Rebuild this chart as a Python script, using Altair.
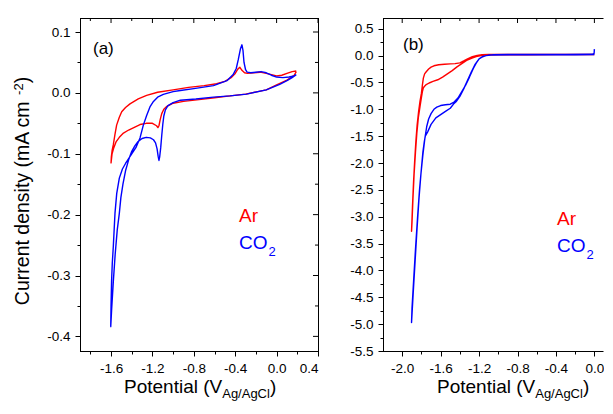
import altair as alt
import pandas as pd

FONT = "Liberation Sans"

# ---------------- panel (a) data ----------------
a_ar_v = [0.19, 0.17, 0.10, 0.0, -0.10, -0.30, -0.45, -0.60, -0.75, -0.90, -1.0, -1.06, -1.09, -1.11,
          -1.125, -1.137, -1.147, -1.16, -1.20, -1.26, -1.32, -1.38, -1.43, -1.48, -1.52, -1.55, -1.575,
          -1.59, -1.6,
          -1.597, -1.59, -1.578, -1.562, -1.546, -1.52, -1.497, -1.46, -1.417, -1.337, -1.256, -1.15,
          -1.0, -0.85, -0.70, -0.58, -0.50, -0.44, -0.40, -0.375, -0.355, -0.335, -0.31, -0.28, -0.22,
          -0.16, -0.10, -0.05, 0.0, 0.05, 0.10, 0.15, 0.19]
a_ar_j = [0.035, 0.029, 0.021, 0.013, 0.005, -0.002, -0.005, -0.008, -0.011, -0.014, -0.017, -0.022,
          -0.027, -0.034, -0.044, -0.054, -0.057, -0.054, -0.050, -0.050, -0.052, -0.057, -0.061, -0.066,
          -0.073, -0.080, -0.091, -0.100, -0.115,
          -0.105, -0.095, -0.085, -0.068, -0.053, -0.040, -0.031, -0.024, -0.018, -0.010, -0.004, 0.001,
          0.005, 0.009, 0.012, 0.015, 0.019, 0.025, 0.032, 0.039, 0.042, 0.037, 0.033, 0.032, 0.033,
          0.034, 0.032, 0.030, 0.028, 0.029, 0.032, 0.035, 0.036]
a_co2_v = [0.19, 0.15, 0.10, 0.03, -0.10, -0.29, -0.45, -0.61, -0.78, -0.93, -1.00, -1.05, -1.075, -1.09,
           -1.10, -1.11, -1.12, -1.13, -1.137, -1.145, -1.155, -1.17, -1.19, -1.22, -1.26, -1.30, -1.34,
           -1.37, -1.40, -1.43, -1.46, -1.485, -1.505, -1.52, -1.54, -1.56, -1.578, -1.594, -1.603,
           -1.60, -1.595, -1.588, -1.578, -1.562, -1.545, -1.52, -1.49, -1.46, -1.43, -1.40, -1.36, -1.32,
           -1.288, -1.256, -1.224, -1.19, -1.15, -1.095, -1.0, -0.93, -0.8, -0.61, -0.48, -0.42, -0.39,
           -0.37, -0.35, -0.335, -0.325, -0.315, -0.30, -0.285, -0.25, -0.20, -0.15, -0.10, -0.05, 0.0,
           0.06, 0.12, 0.17, 0.19]
a_co2_j = [0.030, 0.025, 0.020, 0.014, 0.005, -0.002, -0.005, -0.007, -0.010, -0.012, -0.016, -0.021,
           -0.028, -0.038, -0.052, -0.070, -0.090, -0.105, -0.111, -0.104, -0.092, -0.082, -0.077, -0.074,
           -0.073, -0.075, -0.080, -0.087, -0.096, -0.110, -0.128, -0.150, -0.172, -0.198, -0.225, -0.265,
           -0.310, -0.355, -0.384,
           -0.35, -0.31, -0.28, -0.252, -0.198, -0.165, -0.140, -0.125, -0.116, -0.108, -0.100, -0.090,
           -0.074, -0.053, -0.037, -0.023, -0.014, -0.007, -0.0025, 0.002, 0.004, 0.007, 0.012, 0.020,
           0.030, 0.040, 0.055, 0.072, 0.079, 0.070, 0.050, 0.038, 0.034, 0.033, 0.034, 0.035, 0.033,
           0.029, 0.026, 0.025, 0.026, 0.028, 0.030]

# ---------------- panel (b) data ----------------
b_ar_v = [0.0, -0.3, -0.6, -0.9, -1.1, -1.17, -1.22, -1.27, -1.32, -1.36, -1.40, -1.45, -1.50, -1.56,
          -1.62, -1.67, -1.70, -1.725, -1.75, -1.767, -1.78, -1.79, -1.80, -1.815, -1.83, -1.845, -1.858,
          -1.87, -1.882, -1.893, -1.903,
          -1.898, -1.888, -1.876, -1.862, -1.848, -1.832, -1.815, -1.80, -1.79, -1.78, -1.77, -1.75,
          -1.72, -1.68, -1.63, -1.58, -1.53, -1.48, -1.43, -1.38, -1.33, -1.28, -1.23, -1.18, -1.13,
          -1.0, -0.7, -0.4, -0.1, 0.0]
b_ar_j = [0.02, 0.02, 0.02, 0.02, 0.02, 0.015, 0.005, -0.02, -0.06, -0.10, -0.135, -0.15, -0.155, -0.16,
          -0.17, -0.19, -0.215, -0.25, -0.30, -0.34, -0.42, -0.55, -0.70, -0.85, -1.05, -1.30, -1.60,
          -1.95, -2.35, -2.80, -3.27,
          -3.10, -2.65, -2.20, -1.80, -1.45, -1.15, -0.95, -0.78, -0.67, -0.60, -0.575, -0.54,
          -0.51, -0.48, -0.45, -0.40, -0.34, -0.28, -0.21, -0.15, -0.09, -0.05, -0.02, 0.0, 0.01,
          0.015, 0.015, 0.02, 0.02, 0.02]
b_co2_v = [0.0, -0.003, -0.02, -0.3, -0.6, -0.9, -1.05, -1.13, -1.17, -1.20, -1.23, -1.26, -1.30, -1.34,
           -1.38, -1.42, -1.46, -1.50, -1.55, -1.60, -1.64, -1.67, -1.70, -1.725, -1.745, -1.765, -1.785,
           -1.805, -1.825, -1.845, -1.865, -1.885, -1.903,
           -1.898, -1.88, -1.86, -1.84, -1.82, -1.80, -1.785, -1.77, -1.76, -1.735, -1.70, -1.65, -1.60,
           -1.55, -1.50, -1.46, -1.44, -1.40, -1.36, -1.32, -1.28, -1.24, -1.20, -1.16, -1.10, -0.8,
           -0.5, -0.2, 0.0]
b_co2_j = [0.12, 0.04, 0.025, 0.02, 0.02, 0.02, 0.015, 0.0, -0.03, -0.06, -0.14, -0.24, -0.40, -0.55,
           -0.67, -0.79, -0.865, -0.905, -0.915, -0.93, -0.96, -1.0, -1.08, -1.18, -1.32, -1.55, -1.85,
           -2.2, -2.65, -3.2, -3.8, -4.4, -4.97,
           -4.7, -4.15, -3.55, -3.0, -2.5, -2.1, -1.8, -1.6, -1.50, -1.42, -1.28, -1.16, -1.10,
           -1.04, -0.98, -0.89, -0.86, -0.76, -0.62, -0.46, -0.30, -0.16, -0.06, -0.015, 0.01, 0.015,
           0.015, 0.015, 0.02]

# ---------------- axes ----------------
a_x_dom = [-1.9, 0.4]
a_y_dom = [-0.424, 0.123]
a_x_major = [-1.6, -1.2, -0.8, -0.4, 0.0, 0.4]
a_x_minor = [-1.8, -1.4, -1.0, -0.6, -0.2, 0.2]
a_y_major = [0.1, 0.0, -0.1, -0.2, -0.3, -0.4]
a_y_minor = [0.05, -0.05, -0.15, -0.25, -0.35]

b_x_dom = [-2.2, 0.1]
b_y_dom = [-5.5, 0.7]
b_x_major = [-2.0, -1.6, -1.2, -0.8, -0.4, 0.0]
b_x_minor = [-1.8, -1.4, -1.0, -0.6, -0.2]
b_y_major = [0.5, 0.0, -0.5, -1.0, -1.5, -2.0, -2.5, -3.0, -3.5, -4.0, -4.5, -5.0, -5.5]
b_y_minor = [0.25, -0.25, -0.75, -1.25, -1.75, -2.25, -2.75, -3.25, -3.75, -4.25, -4.75, -5.25]

series = ["Ar", "CO2"]
colors = ["#ff0000", "#0000ff"]

y_title_main = "Current density  (mA cm"
y_title_sup = "-2"
x_title_main = "Potential (V"
x_title_sub = "Ag/AgCl"

ARIAL = {' ': 278, '(': 333, ')': 333, '-': 333, '/': 278, '.': 278, '2': 556, 'A': 667, 'C': 722,
         'O': 778, 'P': 667, 'V': 667, 'a': 556, 'c': 500, 'd': 556, 'e': 556, 'g': 556, 'i': 222,
         'l': 222, 'm': 833, 'n': 556, 'r': 333, 's': 500, 't': 278, 'u': 556, 'y': 500}

MINUS = "\u2212"


def tw(s, fs):
    return sum(ARIAL.get(c, 556) for c in s) / 1000.0 * fs


def frame_df(v_ar, j_ar, v_co, j_co):
    rows = []
    for i, (v, j) in enumerate(zip(v_ar, j_ar)):
        rows.append({"V": v, "J": j, "gas": "Ar", "i": i})
    for i, (v, j) in enumerate(zip(v_co, j_co)):
        rows.append({"V": v, "J": j, "gas": "CO2", "i": i})
    return pd.DataFrame(rows)


ONE = pd.DataFrame({"k": [0]})


def txt(s, x, y, size, color="black", angle=0, align="left", baseline="alphabetic"):
    kw = dict(align=align, baseline=baseline, font=FONT, fontSize=size, color=color)
    if angle:
        kw["angle"] = angle
    return alt.Chart(pd.DataFrame({"t": [s]})).mark_text(**kw).encode(
        text="t:N", x=alt.value(x), y=alt.value(y))


def rule(opacity=1, **enc):
    return alt.Chart(ONE).mark_rule(color="black", strokeWidth=1, opacity=opacity).encode(
        **{k: alt.value(v) for k, v in enc.items()})


def ax(orient, values, size, labels=True, pad=5):
    kw = dict(orient=orient, values=values, tickSize=size, labels=labels, domain=False, grid=False,
              title=None, ticks=True, tickColor="black", tickWidth=1)
    if labels:
        kw.update(format=".1f", labelFont=FONT, labelFontSize=13.5, labelColor="black",
                  labelPadding=pad, labelExpr="replace(datum.label, '%s', '-')" % MINUS)
    return alt.Axis(**kw)


def inner_ticks_x(values, xs, length):
    return alt.Chart(pd.DataFrame({"v": values})).mark_rule(color="black", strokeWidth=1).encode(
        x=alt.X("v:Q", scale=xs, axis=None), y=alt.value(0), y2=alt.value(length))


def inner_ticks_y(values, ys, w, length):
    return alt.Chart(pd.DataFrame({"v": values})).mark_rule(color="black", strokeWidth=1).encode(
        y=alt.Y("v:Q", scale=ys, axis=None), x=alt.value(w - length), x2=alt.value(w))


def panel(df, xdom, ydom, xmaj, xmin, ymaj, ymin, w, h, right, extras):
    xs = alt.Scale(domain=xdom, nice=False, zero=False)
    ys = alt.Scale(domain=ydom, nice=False, zero=False)
    base = alt.Chart(df)
    lines = base.mark_line(strokeWidth=1.4, clip=True, strokeJoin="round").encode(
        x=alt.X("V:Q", scale=xs, axis=ax("bottom", xmaj, 5, pad=5)),
        y=alt.Y("J:Q", scale=ys, axis=ax("left", ymaj, 5, pad=5)),
        color=alt.Color("gas:N", scale=alt.Scale(domain=series, range=colors), legend=None),
        order="i:Q",
    )
    minor = base.mark_point(opacity=0).encode(
        x=alt.X("V:Q", scale=xs, axis=ax("bottom", xmin, 3, labels=False)),
        y=alt.Y("J:Q", scale=ys, axis=ax("left", ymin, 3, labels=False)),
    )
    ext = w + 1 if right else w - 0.5
    frame = [
        rule(x=0.5, y=0, y2=h + 1),
        rule(y=0.5, x=0, x2=ext),
        rule(y=h + 0.5, x=0, x2=ext),
    ]
    if right:
        frame.append(rule(x=w + 0.5, y=0, y2=h + 1))
    layers = [lines, minor, inner_ticks_x(xmaj, xs, 5), inner_ticks_x(xmin, xs, 3)] + frame
    if right:
        layers += [inner_ticks_y(ymaj, ys, w, 5), inner_ticks_y(ymin, ys, w, 3)]
    return alt.layer(*layers, *extras).resolve_axis(
        x="independent", y="independent").properties(width=w, height=h)


# layout (page = 8px margin + svg); svg kept within 597 x 394 so the page never overflows
W_A, W_B, H = 238, 221, 333
STRIP_H = 50
LEG = 19

# y axis title (rotated, with superscript) for panel (a)
yt_fs, ys_fs = 19.5, 13
yt_len = tw(y_title_main, yt_fs) + tw(y_title_sup, ys_fs) + tw(")", yt_fs)
yb = 173 + yt_len / 2
y_title = [
    txt(y_title_main, -51, yb, yt_fs, angle=270),
    txt(y_title_sup, -57.5, yb - tw(y_title_main, yt_fs), ys_fs, angle=270),
    txt(")", -51, yb - tw(y_title_main, yt_fs) - tw(y_title_sup, ys_fs), yt_fs, angle=270),
]

extras_a = [
    rule(opacity=0, x=-71.5, y=-9.5, y2=0),   # invisible layout anchor (left/top extent)
    txt("(a)", 13, 36, 17),
    txt("Ar", 159, 204, LEG, color=colors[0]),
    txt("CO", 159, 231, LEG, color=colors[1]),
    txt("2", 159 + tw("CO", LEG) + 1, 238, 13, color=colors[1]),
] + y_title
extras_b = [
    txt("(b)", 20, 32, 17),
    txt("Ar", 174, 207, LEG, color=colors[0]),
    txt("CO", 174, 234, LEG, color=colors[1]),
    txt("2", 174 + tw("CO", LEG) + 1, 241, 13, color=colors[1]),
]

pa = panel(frame_df(a_ar_v, a_ar_j, a_co2_v, a_co2_j), a_x_dom, a_y_dom, a_x_major, a_x_minor,
           a_y_major, a_y_minor, W_A, H, True, extras_a)
pb = panel(frame_df(b_ar_v, b_ar_j, b_co2_v, b_co2_j), b_x_dom, b_y_dom, b_x_major, b_x_minor,
           b_y_major, b_y_minor, W_B, H, False, extras_b)

# x axis titles (with subscript), in strips below the panels
xt_fs, xs_fs = 19, 13


def x_title_strip(x0, w):
    x1 = x0 + tw(x_title_main, xt_fs)
    x2 = x1 + tw(x_title_sub, xs_fs)
    return alt.layer(
        txt(x_title_main, x0, 42, xt_fs),
        txt(x_title_sub, x1, 47, xs_fs),
        txt(")", x2, 42, xt_fs),
    ).properties(width=w, height=STRIP_H)


xa = x_title_strip(44, W_A)
xb = x_title_strip(54, W_B)

chart = alt.concat(pa, pb, xa, xb, columns=2, spacing={"row": 0, "column": 65},
                   bounds="flush").resolve_scale(x="independent", y="independent").properties(
    padding={"left": 0, "top": 0, "right": 0, "bottom": 0}, background="white"
).configure_view(stroke=None)

chart.save("out.html", embed_options={"renderer": "svg", "actions": False})
